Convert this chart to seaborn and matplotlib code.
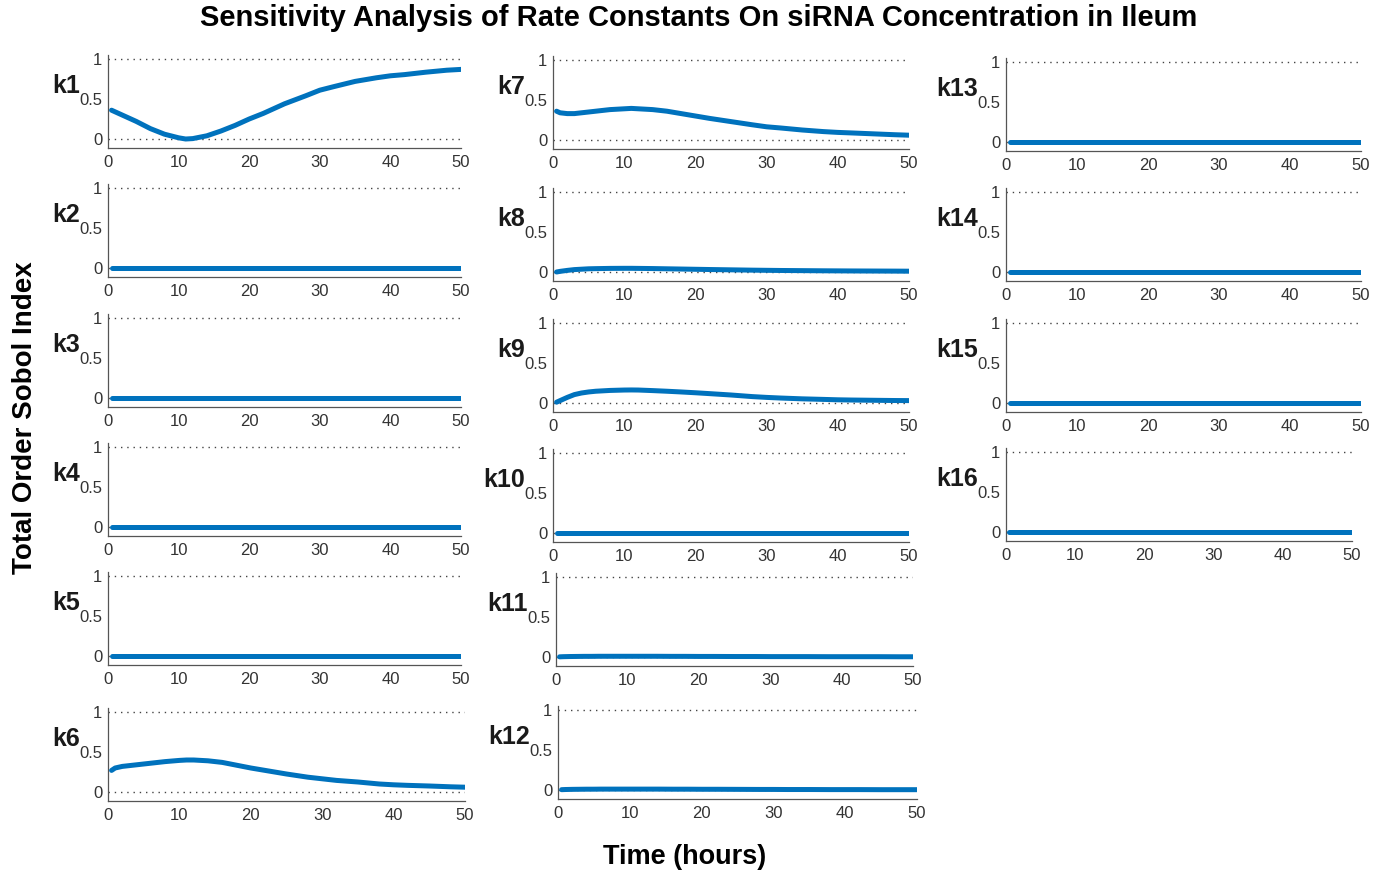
import numpy as np
import pandas as pd
import matplotlib
matplotlib.use("Agg")
import matplotlib.pyplot as plt
import seaborn as sns

# Time points (hours) at which the total-order Sobol indices were evaluated
time_h = [0.5, 1, 2, 3, 4, 5, 6, 8, 10, 11, 12, 14, 16, 18, 20, 22, 25, 28,
          30, 32, 35, 38, 40, 42, 45, 48, 50]

k1 = [0.36, 0.34, 0.30, 0.26, 0.22, 0.175, 0.13, 0.06, 0.015, 0.0, 0.005, 0.04,
      0.10, 0.17, 0.25, 0.32, 0.44, 0.54, 0.61, 0.655, 0.72, 0.765, 0.79, 0.805,
      0.835, 0.86, 0.87]
k6 = [0.27, 0.30, 0.32, 0.33, 0.34, 0.35, 0.36, 0.38, 0.395, 0.40, 0.40, 0.39,
      0.37, 0.335, 0.30, 0.27, 0.225, 0.185, 0.165, 0.145, 0.125, 0.10, 0.09,
      0.083, 0.075, 0.065, 0.06]
k7 = [0.36, 0.34, 0.33, 0.33, 0.34, 0.35, 0.36, 0.38, 0.39, 0.395, 0.39, 0.38,
      0.36, 0.33, 0.30, 0.27, 0.23, 0.19, 0.165, 0.15, 0.125, 0.105, 0.095,
      0.088, 0.077, 0.066, 0.06]
k8 = [0.0, 0.008, 0.02, 0.03, 0.035, 0.04, 0.042, 0.045, 0.046, 0.046, 0.045,
      0.043, 0.04, 0.037, 0.034, 0.031, 0.027, 0.023, 0.021, 0.019, 0.017,
      0.015, 0.014, 0.013, 0.012, 0.011, 0.01]
k9 = [0.01, 0.03, 0.07, 0.105, 0.125, 0.138, 0.147, 0.157, 0.162, 0.163, 0.162,
      0.155, 0.147, 0.138, 0.128, 0.117, 0.10, 0.08, 0.07, 0.062, 0.052, 0.045,
      0.04, 0.037, 0.034, 0.031, 0.03]
k11 = [0.002, 0.004, 0.006, 0.007, 0.008, 0.008, 0.009, 0.009, 0.009, 0.009,
       0.009, 0.009, 0.008, 0.008, 0.007, 0.007, 0.006, 0.006, 0.005, 0.005,
       0.005, 0.004, 0.004, 0.004, 0.004, 0.003, 0.003]
k12 = [0.004, 0.006, 0.008, 0.009, 0.010, 0.010, 0.011, 0.011, 0.011, 0.011,
       0.011, 0.011, 0.010, 0.010, 0.009, 0.009, 0.008, 0.007, 0.007, 0.006,
       0.006, 0.005, 0.005, 0.005, 0.004, 0.004, 0.004]
zero_index = [0.0, 0.0, 0.0, 0.0, 0.0, 0.0, 0.0, 0.0, 0.0, 0.0, 0.0, 0.0, 0.0,
              0.0, 0.0, 0.0, 0.0, 0.0, 0.0, 0.0, 0.0, 0.0, 0.0, 0.0, 0.0, 0.0, 0.0]

params = ["k1", "k2", "k3", "k4", "k5", "k6",
          "k7", "k8", "k9", "k10", "k11", "k12",
          "k13", "k14", "k15", "k16"]
series = {
    "k1": k1, "k2": zero_index, "k3": zero_index, "k4": zero_index,
    "k5": zero_index, "k6": k6, "k7": k7, "k8": k8, "k9": k9,
    "k10": zero_index, "k11": k11, "k12": k12, "k13": zero_index,
    "k14": zero_index, "k15": zero_index, "k16": zero_index,
}
x_ticks = [0, 10, 20, 30, 40, 50]
y_ticks = [0, 0.5, 1]
y_tick_labels = ["0", "0.5", "1"]

df = pd.concat(
    [pd.DataFrame({"time": time_h, "index": series[p], "param": p}) for p in params],
    ignore_index=True,
)

sns.set_theme(style="white")
plt.rcParams["font.family"] = ["Liberation Sans", "DejaVu Sans"]

W, H = 1388, 874
fig = plt.figure(figsize=(W / 100, H / 100), dpi=100)

# panel placement in pixels: (left spine, right end at x=50, pixel row of y=0)
panel_px = {
    "k1": (108, 461, 139), "k2": (108, 461, 268), "k3": (108, 461, 398),
    "k4": (108, 461, 527), "k5": (108, 461, 656), "k6": (108, 465, 792),
    "k7": (553, 909, 140), "k8": (553, 909, 272), "k9": (553, 909, 403),
    "k10": (553, 909, 533), "k11": (556, 913, 657), "k12": (558, 917, 790),
    "k13": (1006, 1361, 142), "k14": (1006, 1361, 272), "k15": (1006, 1361, 403),
    "k16": (1006, 1352, 532),
}
unit_px = 80.0
ylo, yhi = -0.11, 1.05

line_color = "#0072BD"
axis_color = "#555555"
text_color = "#333333"

for p in params:
    left, right, y0 = panel_px[p]
    bottom_px = y0 + (-ylo) * unit_px
    top_px = y0 - yhi * unit_px
    ax = fig.add_axes([left / W, 1 - bottom_px / H,
                       (right - left) / W, (bottom_px - top_px) / H])
    for yv in (0, 1):
        ax.axhline(yv, color="#444444", lw=1.0, ls=(0, (1, 3.5)), zorder=1)
    sns.lineplot(data=df[df["param"] == p], x="time", y="index", ax=ax,
                 color=line_color, lw=3.6, zorder=3, legend=False)
    ax.set_xlim(0, 50)
    ax.set_ylim(ylo, yhi)
    ax.set_xticks(x_ticks)
    ax.set_yticks(y_ticks)
    ax.set_yticklabels(y_tick_labels)
    ax.set_xlabel("")
    ax.set_ylabel("")
    for s in ("top", "right"):
        ax.spines[s].set_visible(False)
    for s in ("left", "bottom"):
        ax.spines[s].set_color(axis_color)
        ax.spines[s].set_linewidth(0.9)
    ax.tick_params(axis="x", direction="in", length=3, width=0.8,
                   color=axis_color, labelsize=12, labelcolor=text_color, pad=5)
    ax.tick_params(axis="y", direction="in", length=0, labelsize=12,
                   labelcolor=text_color, pad=4)
    ax.annotate(p, xy=(0, 0.66), xycoords="data", xytext=(-20, 0),
                textcoords="offset points", ha="right", va="center",
                fontsize=18, fontweight="bold", color="#1a1a1a",
                annotation_clip=False)

fig.text(699 / W, 1 - 18 / H,
         "Sensitivity Analysis of Rate Constants On siRNA Concentration in Ileum",
         ha="center", va="center", fontsize=21, fontweight="bold", color="black")
fig.text(25 / W, 1 - 418 / H, "Total Order Sobol Index", rotation=90,
         ha="center", va="center", fontsize=20, fontweight="bold", color="black")
fig.text(685 / W, 1 - 857 / H, "Time (hours)", ha="center", va="center",
         fontsize=19.5, fontweight="bold", color="black")

fig.savefig("out.png", dpi=100, facecolor="white")
